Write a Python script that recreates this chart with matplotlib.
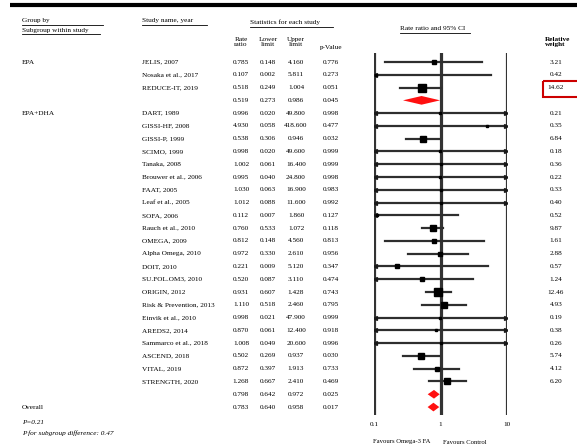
# forest_plot.py
# Forest plot of rate ratios by subgroup (EPA vs EPA+DHA)

import matplotlib
matplotlib.use("Agg")
import matplotlib.pyplot as plt
from matplotlib.patches import Rectangle

plt.rcParams['font.family'] = ['Liberation Serif', 'DejaVu Serif']

# ---- data ----
groups = ["EPA", "EPA+DHA"]

epa_names = ["JELIS, 2007", "Nosaka et al., 2017", "REDUCE-IT, 2019"]
epa_rr = [0.785, 0.107, 0.518]
epa_lo = [0.148, 0.002, 0.249]
epa_hi = [4.160, 5.811, 1.004]
epa_p = [0.776, 0.273, 0.051]
epa_w = [3.21, 0.42, 14.62]

dha_names = ["DART, 1989", "GISSI-HF, 2008", "GISSI-P, 1999", "SCIMO, 1999",
             "Tanaka, 2008", "Brouwer et al., 2006", "FAAT, 2005",
             "Leaf et al., 2005", "SOFA, 2006", "Rauch et al., 2010",
             "OMEGA, 2009", "Alpha Omega, 2010", "DOIT, 2010",
             "SU.FOL.OM3, 2010", "ORIGIN, 2012", "Risk & Prevention, 2013",
             "Einvik et al., 2010", "AREDS2, 2014", "Sammarco et al., 2018",
             "ASCEND, 2018", "VITAL, 2019", "STRENGTH, 2020"]
dha_rr = [0.996, 4.930, 0.538, 0.998, 1.002, 0.995, 1.030, 1.012, 0.112,
          0.760, 0.812, 0.972, 0.221, 0.520, 0.931, 1.110, 0.998, 0.870,
          1.008, 0.502, 0.872, 1.268]
dha_lo = [0.020, 0.058, 0.306, 0.020, 0.061, 0.040, 0.063, 0.088, 0.007,
          0.533, 0.148, 0.330, 0.009, 0.087, 0.607, 0.518, 0.021, 0.061,
          0.049, 0.269, 0.397, 0.667]
dha_hi = [49.80, 418.6, 0.946, 49.60, 16.40, 24.80, 16.90, 11.60, 1.860,
          1.072, 4.560, 2.610, 5.120, 3.110, 1.428, 2.460, 47.90, 12.40,
          20.60, 0.937, 1.913, 2.410]
dha_p = [0.998, 0.477, 0.032, 0.999, 0.999, 0.998, 0.983, 0.992, 0.127,
         0.118, 0.813, 0.956, 0.347, 0.474, 0.743, 0.795, 0.999, 0.918,
         0.996, 0.030, 0.733, 0.469]
dha_w = [0.21, 0.35, 6.84, 0.18, 0.36, 0.22, 0.33, 0.40, 0.52, 9.87, 1.61,
         2.88, 0.57, 1.24, 12.46, 4.93, 0.19, 0.38, 0.26, 5.74, 4.12, 6.20]

# subgroup summaries and overall
sum_rr = [0.519, 0.798, 0.783]
sum_lo = [0.273, 0.642, 0.640]
sum_hi = [0.986, 0.972, 0.958]
sum_p = [0.045, 0.025, 0.017]

axis_ticks = [0.1, 1, 10]
axis_labels = ["0.1", "1", "10"]

# ---- layout (pixels) ----
W, H = 577, 446
ROW0, DY = 62.0, 12.78
AX_L, AX_R, AX_T, AX_B = 374, 507, 53, 415
FS = 5.2


def row_y(i):
    return ROW0 + DY * i


fig = plt.figure(figsize=(W / 100, H / 100), dpi=100)
bg = fig.add_axes([0, 0, 1, 1])
bg.set_xlim(0, W)
bg.set_ylim(H, 0)
bg.axis('off')

fax = fig.add_axes([AX_L / W, 1 - AX_B / H, (AX_R - AX_L) / W, (AX_B - AX_T) / H])
fax.set_xscale('log')
fax.set_xlim(0.1, 10)
fax.set_ylim((AX_B - ROW0) / DY, (AX_T - ROW0) / DY)
fax.axis('off')
fax.patch.set_alpha(0)

# top rule
bg.plot([10, W], [5, 5], color='black', lw=3, solid_capstyle='butt')

# headers
def underline(x0, x1, y):
    bg.plot([x0, x1], [y, y], color='black', lw=0.6)

bg.text(22, 23, "Group by", fontsize=FS, va='bottom')
underline(22, 103, 24.5)
bg.text(22, 33, "Subgroup within study", fontsize=FS, va='bottom')
underline(22, 100, 34)
bg.text(142, 23, "Study name, year", fontsize=FS, va='bottom')
underline(142, 207, 24.5)
bg.text(250, 25, "Statistics for each study", fontsize=FS, va='bottom')
underline(250, 333, 26.5)
bg.text(400, 31, "Rate ratio and 95% CI", fontsize=FS, va='bottom')
underline(400, 470, 32.5)

col_x = [241, 268, 296, 331]
bg.text(col_x[0], 42, "Rate\nratio", fontsize=FS, ha='center', va='center', linespacing=1.1)
bg.text(col_x[1], 42, "Lower\nlimit", fontsize=FS, ha='center', va='center', linespacing=1.1)
bg.text(col_x[2], 42, "Upper\nlimit", fontsize=FS, ha='center', va='center', linespacing=1.1)
bg.text(col_x[3], 47, "p-Value", fontsize=FS, ha='center', va='center')
bg.text(545, 42, "Relative\nweight", fontsize=FS, ha='left', va='center',
        linespacing=1.1, fontweight='bold')

# reference lines
for t in axis_ticks:
    fax.axvline(t, color='#333333', lw=2.3)


def draw_study(idx, rr, lo, hi, w):
    lo_c, hi_c = max(lo, 0.1), min(hi, 10)
    fax.plot([lo_c, hi_c], [idx, idx], color='#2e2e2e', lw=1.6, zorder=3)
    if lo < 0.1:
        fax.plot(0.104, idx, marker='<', ms=2.8, color='#1a1a1a', zorder=4)
    if hi > 10:
        fax.plot(9.6, idx, marker='>', ms=2.8, color='#1a1a1a', zorder=4)
    if 0.1 <= rr <= 10:
        fax.plot(rr, idx, marker='s', ms=1.4 + 1.05 * w ** 0.5,
                 color='black', zorder=5)


def draw_diamond(idx, rr, lo, hi):
    fax.fill([lo, rr, hi, rr], [idx, idx - 0.34, idx, idx + 0.34],
             color='#ff1010', zorder=5, lw=0)


def numbers(idx, rr, lo, hi, p):
    y = row_y(idx)
    for x, v in zip(col_x, [rr, lo, hi, p]):
        bg.text(x, y, f"{v:.3f}", fontsize=FS, ha='center', va='center')


row = 0
for g, (names, rrs, los, his, ps, ws) in enumerate(
        [(epa_names, epa_rr, epa_lo, epa_hi, epa_p, epa_w),
         (dha_names, dha_rr, dha_lo, dha_hi, dha_p, dha_w)]):
    bg.text(22, row_y(row), groups[g], fontsize=FS, va='center')
    for k in range(len(names)):
        bg.text(142, row_y(row), names[k], fontsize=FS, va='center')
        numbers(row, rrs[k], los[k], his[k], ps[k])
        bg.text(556, row_y(row), f"{ws[k]:.2f}", fontsize=FS, ha='center', va='center')
        draw_study(row, rrs[k], los[k], his[k], ws[k])
        row += 1
    numbers(row, sum_rr[g], sum_lo[g], sum_hi[g], sum_p[g])
    draw_diamond(row, sum_rr[g], sum_lo[g], sum_hi[g])
    row += 1

# overall
bg.text(22, row_y(row), "Overall", fontsize=FS, va='center')
numbers(row, sum_rr[2], sum_lo[2], sum_hi[2], sum_p[2])
draw_diamond(row, sum_rr[2], sum_lo[2], sum_hi[2])

# highlight box around REDUCE-IT weight
bg.add_patch(Rectangle((543, 81), 40, 16, fill=False, edgecolor='#cc0000', lw=1.5))

# axis labels
for k, lab in enumerate(axis_labels):
    px = AX_L + (AX_R - AX_L) * k / 2
    bg.text(px, 425, lab, fontsize=FS, ha='center', va='center')
bg.text(430, 442, "Favours Omega-3 FA", fontsize=4.8, ha='right', va='center')
bg.text(443, 442, "Favours Control", fontsize=4.8, ha='left', va='center')

bg.text(22, 423, "P=0.21", fontsize=FS, va='center', style='italic')
bg.text(22, 433, "P for subgroup difference: 0.47", fontsize=FS, va='center', style='italic')

fig.savefig("out.png", dpi=100)
